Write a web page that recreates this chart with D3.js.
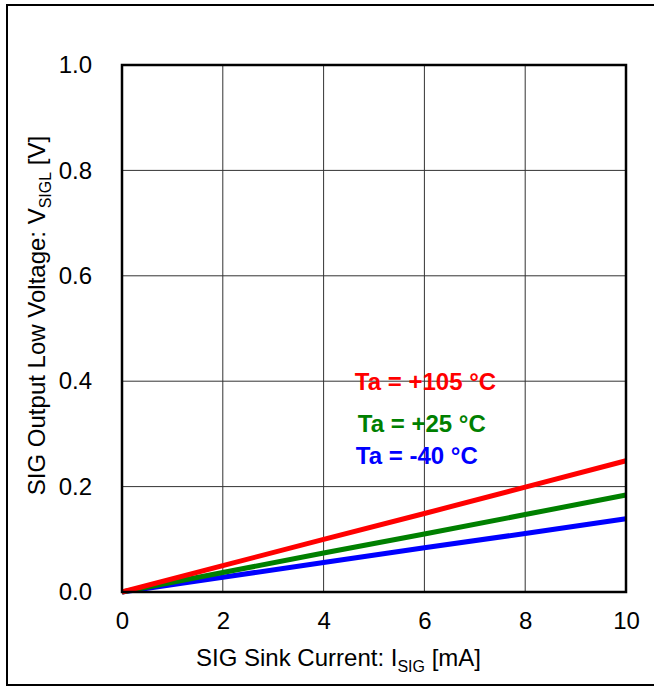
<!DOCTYPE html>
<html>
<head>
<meta charset="utf-8">
<script src="https://cdn.jsdelivr.net/npm/d3@7"></script>
<style>
  body { margin: 0; background: #fff; }
  svg { display: block; font-family: "Liberation Sans", Arial, sans-serif; }
</style>
</head>
<body>
<div id="chart"></div>
<script>
// Data
var currents = [0, 2, 4, 6, 8, 10];           // mA
var v105 = [0, 0.050, 0.100, 0.149, 0.199, 0.249];
var v25  = [0, 0.037, 0.074, 0.110, 0.147, 0.184];
var vm40 = [0, 0.028, 0.056, 0.084, 0.111, 0.139];
var xTicks = [0, 2, 4, 6, 8, 10];
var yTicks = [0, 0.2, 0.4, 0.6, 0.8, 1.0];
var seriesNames = ["Ta = +105 °C", "Ta = +25 °C", "Ta = -40 °C"];
var seriesColors = ["#ff0000", "#008000", "#0000ff"];
// label anchors in data units (mA, V)
var labelX = [4.62, 4.68, 4.64];
var labelY = [0.383, 0.304, 0.243];

var width = 654, height = 687;
var margin = { left: 122, right: 28, top: 65, bottom: 95 };

var svg = d3.select("#chart").append("svg")
    .attr("width", width)
    .attr("height", height);

// outer frame (right side runs off the picture)
svg.append("rect")
    .attr("x", 7).attr("y", 5)
    .attr("width", 660).attr("height", 680)
    .attr("fill", "none")
    .attr("stroke", "#000")
    .attr("stroke-width", 2);

var x = d3.scaleLinear().domain([0, 10]).range([margin.left, width - margin.right]);
var y = d3.scaleLinear().domain([0, 1]).range([height - margin.bottom, margin.top]);

// grid
svg.append("g")
    .selectAll("line.v")
    .data(xTicks.slice(1, -1))
    .enter().append("line")
    .attr("x1", d => x(d)).attr("x2", d => x(d))
    .attr("y1", y(0)).attr("y2", y(1))
    .attr("stroke", "#333").attr("stroke-width", 1);

svg.append("g")
    .selectAll("line.h")
    .data(yTicks.slice(1, -1))
    .enter().append("line")
    .attr("x1", x(0)).attr("x2", x(10))
    .attr("y1", d => y(d)).attr("y2", d => y(d))
    .attr("stroke", "#333").attr("stroke-width", 1);

// axes (labels only)
var xAxis = d3.axisBottom(x).tickValues(xTicks).tickSize(0).tickPadding(20)
    .tickFormat(d3.format("d"));
var gx = svg.append("g")
    .attr("transform", "translate(0," + y(0) + ")")
    .call(xAxis);
gx.select(".domain").remove();
gx.selectAll("text").attr("font-size", 24).attr("fill", "#000")
    .attr("font-family", "Liberation Sans, Arial, sans-serif");

var yAxis = d3.axisLeft(y).tickValues(yTicks).tickSize(0).tickPadding(30)
    .tickFormat(d3.format(".1f"));
var gy = svg.append("g")
    .attr("transform", "translate(" + x(0) + ",0)")
    .call(yAxis);
gy.select(".domain").remove();
gy.selectAll("text").attr("font-size", 24).attr("fill", "#000")
    .attr("font-family", "Liberation Sans, Arial, sans-serif");

// series lines
var allSeries = [v105, v25, vm40];
var line = d3.line()
    .x((d, i) => x(currents[i]))
    .y(d => y(d));

// draw blue first so red sits on top
svg.append("g")
    .selectAll("path")
    .data([2, 1, 0])
    .enter().append("path")
    .attr("d", k => line(allSeries[k]))
    .attr("fill", "none")
    .attr("stroke", k => seriesColors[k])
    .attr("stroke-width", 5);

// plot frame
svg.append("rect")
    .attr("x", x(0)).attr("y", y(1))
    .attr("width", x(10) - x(0))
    .attr("height", y(0) - y(1))
    .attr("fill", "none")
    .attr("stroke", "#000")
    .attr("stroke-width", 2.5);

// series labels
svg.append("g")
    .selectAll("text")
    .data(seriesNames)
    .enter().append("text")
    .attr("x", (d, i) => x(labelX[i]))
    .attr("y", (d, i) => y(labelY[i]))
    .attr("font-size", 24)
    .attr("font-weight", "bold")
    .attr("fill", (d, i) => seriesColors[i])
    .text(d => d);

// x title
var xt = svg.append("text")
    .attr("x", 338.5)
    .attr("y", 666)
    .attr("text-anchor", "middle")
    .attr("font-size", 24);
xt.append("tspan").text("SIG Sink Current: I");
xt.append("tspan").attr("font-size", 16).attr("dy", 6).text("SIG");
xt.append("tspan").attr("dy", -6).text(" [mA]");

// y title
var yt = svg.append("text")
    .attr("transform", "translate(45," + 315.5 + ") rotate(-90)")
    .attr("text-anchor", "middle")
    .attr("font-size", 24);
yt.append("tspan").text("SIG Output Low Voltage: V");
yt.append("tspan").attr("font-size", 16).attr("dy", 6).text("SIGL");
yt.append("tspan").attr("dy", -6).text(" [V]");
</script>
</body>
</html>
